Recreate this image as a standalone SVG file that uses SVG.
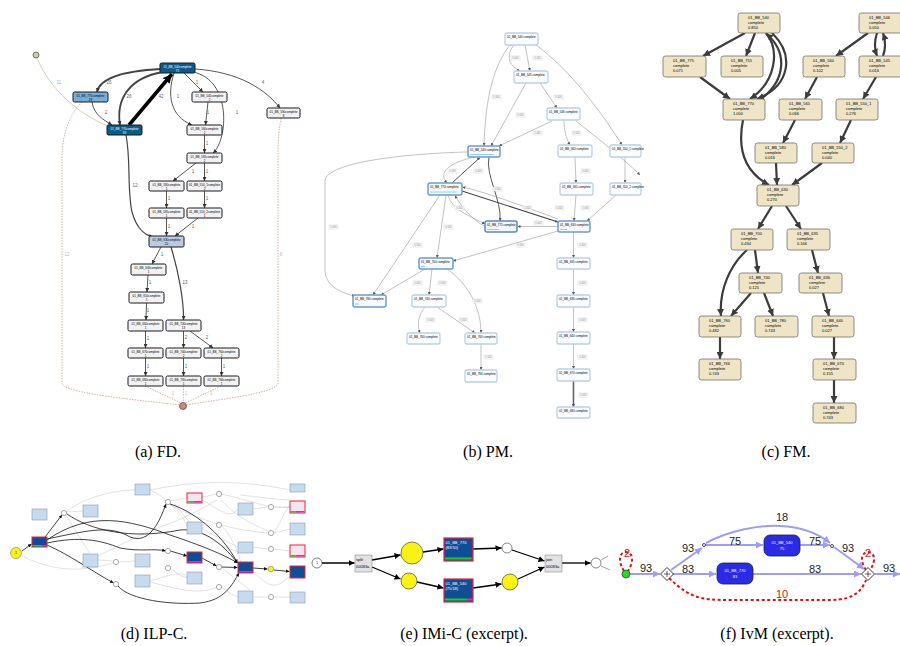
<svg xmlns="http://www.w3.org/2000/svg" width="900" height="646" viewBox="0 0 900 646">
<style>
.cap{font-family:"Liberation Serif",serif;font-size:16px;fill:#000;text-anchor:middle}
.t3{font-family:"Liberation Sans",Arial,sans-serif;font-size:3px;text-anchor:middle}
.t4{font-family:"Liberation Sans",Arial,sans-serif;font-size:4px}
.lab{font-family:"Liberation Sans",Arial,sans-serif;font-size:4.5px;fill:#777;text-anchor:middle}
.fdD{fill:#0b5a8a;stroke:#1a1a1a;stroke-width:1}
.fdL{fill:#79aedb;stroke:#1a1a1a;stroke-width:1}
.fdM{fill:#bccbe4;stroke:#1a1a1a;stroke-width:1}
.fdW{fill:#f2f2f5;stroke:#1a1a1a;stroke-width:1}
.fe{fill:none;stroke:#444;stroke-width:0.9;marker-end:url(#aA)}
.fd{fill:none;stroke:#c49080;stroke-width:0.7;stroke-dasharray:1.5,1.2}
.pmN{fill:#fbfcfd;stroke:#bcd0e6;stroke-width:1.3}
.pmH{fill:#f7f9fb;stroke:#6f9cc9;stroke-width:1.5}
.pe{fill:none;stroke:#999;stroke-width:0.6;marker-end:url(#aP)}
.pk{fill:none;stroke:#444;stroke-width:0.9;marker-end:url(#aP)}
.pl rect{fill:#fff;stroke:#ccc;stroke-width:0.4}
.pl text{font-family:"Liberation Sans",Arial,sans-serif;font-size:2.6px;fill:#888;text-anchor:middle}
.fmN{fill:#efe5c6;stroke:#707070;stroke-width:0.8}
.fme{fill:none;stroke:#3c3c3c;stroke-width:2.2;marker-end:url(#aF)}
.ilB{fill:#c8daee;stroke:#8d9bb0;stroke-width:0.6}
.ilD{fill:#0f4e96;stroke:#e8243a;stroke-width:1}
.ilP{fill:#f6e4ee;stroke:#e8243a;stroke-width:1}
.ilpl{fill:#fff;stroke:#555;stroke-width:0.5}
.ik{fill:none;stroke:#111;stroke-width:0.8;marker-end:url(#aI)}
.ig{fill:none;stroke:#cfcfcf;stroke-width:0.6}
.ek{fill:none;stroke:#000;stroke-width:1.3;marker-end:url(#aE)}
.iv{fill:none;stroke:#9d9cf6;stroke-width:2;marker-end:url(#aV)}
.ivr{fill:none;stroke:#e01010;stroke-width:2;stroke-dasharray:3,2.5}
.ivl{font-family:"Liberation Sans",Arial,sans-serif;font-size:11px;fill:#222;text-anchor:middle}
.ivlr{font-family:"Liberation Sans",Arial,sans-serif;font-size:11px;fill:#e01010;text-anchor:middle}
</style>
<defs>
<marker id="aA" viewBox="0 0 6 6" refX="6" refY="3" markerWidth="4" markerHeight="4" markerUnits="userSpaceOnUse" orient="auto"><path d="M0,0L6,3L0,6z" fill="#333"/></marker>
<marker id="aA2" viewBox="0 0 6 6" refX="6" refY="3" markerWidth="9" markerHeight="9" markerUnits="userSpaceOnUse" orient="auto"><path d="M0,0L6,3L0,6z" fill="#000"/></marker>
<marker id="aP" viewBox="0 0 6 6" refX="6" refY="3" markerWidth="3" markerHeight="3" markerUnits="userSpaceOnUse" orient="auto"><path d="M0,0L6,3L0,6z" fill="#555"/></marker>
<marker id="aF" viewBox="0 0 6 6" refX="6" refY="3" markerWidth="7" markerHeight="7" markerUnits="userSpaceOnUse" orient="auto"><path d="M0,0L6,3L0,6z" fill="#3c3c3c"/></marker>
<marker id="aI" viewBox="0 0 6 6" refX="6" refY="3" markerWidth="3.5" markerHeight="3.5" markerUnits="userSpaceOnUse" orient="auto"><path d="M0,0L6,3L0,6z" fill="#111"/></marker>
<marker id="aE" viewBox="0 0 6 6" refX="6" refY="3" markerWidth="6" markerHeight="6" markerUnits="userSpaceOnUse" orient="auto"><path d="M0,0L6,3L0,6z" fill="#000"/></marker>
<marker id="aV" viewBox="0 0 6 6" refX="6" refY="3" markerWidth="7" markerHeight="7" markerUnits="userSpaceOnUse" orient="auto"><path d="M0,0L6,3L0,6z" fill="#9d9cf6"/></marker>
</defs>
<rect width="900" height="646" fill="#fff"/>

<!-- ============ (a) FD ============ -->
<g id="fd-edges">
<path class="fd" d="M82,102 C66,118 62,140 62,160 L62,383 C62,394 150,401 179.5,405"/>
<path class="fd" d="M281,118 C279,130 278,140 278,150 L278,383 C278,394 205,401 186.5,405"/>
<path class="fd" d="M145,386 L181,403"/>
<path class="fd" d="M183.5,386 L183.2,402.5"/>
<path class="fd" d="M221,386 L185.5,403"/>
<path d="M37,58 C50,90 80,115 108,126" fill="none" stroke="#c5c8a8" stroke-width="0.8"/>
<path class="fe" style="stroke-width:1.8" d="M161,69 C122,71 100,78 97,92"/>
<path class="fe" style="stroke-width:1.8" d="M163,72 C128,78 116,100 120,125"/>
<path style="fill:none;stroke:#000;stroke-width:3.5;marker-end:url(#aA2)" d="M129,125 L172,74"/>
<path class="fe" d="M92,102 C94,115 104,120 112,125"/>
<path class="fe" d="M174,73 C167,95 170,116 192,125"/>
<path class="fe" d="M184,73 L203,92"/>
<path class="fe" d="M193,72 C232,80 228,140 213,153"/>
<path class="fe" d="M195,69 C240,72 266,90 280,108"/>
<path class="fe" d="M208,102 L205.5,125"/>
<path class="fe" d="M204.5,135 L204.5,153"/>
<path class="fe" d="M196,163 L173,181"/>
<path class="fe" d="M204.5,163 L204.5,181"/>
<path class="fe" d="M166.5,191 L166.5,208"/>
<path class="fe" d="M204.5,191 L204.5,208"/>
<path class="fe" d="M166.5,218 L166.5,236"/>
<path class="fe" d="M198,218 L175,236"/>
<path class="fe" style="stroke-width:1.2" d="M126,135 C131,160 127,190 132,212 C137,230 145,235 153,237"/>
<path class="fe" d="M161,247 L152,264"/>
<path class="fe" style="stroke-width:1.2" d="M171,247 C178,270 184,300 183.5,320"/>
<path class="fe" d="M148,275 L147,292"/>
<path class="fe" d="M146.5,303 L146,320"/>
<path class="fe" d="M145.5,331 L145.5,348"/>
<path class="fe" d="M183.5,331 L183.5,348"/>
<path class="fe" d="M190,331 L213,348"/>
<path class="fe" d="M145.5,358 L145.5,376"/>
<path class="fe" d="M183.5,358 L183.5,376"/>
<path class="fe" d="M221.5,358 L221.5,376"/>
<g class="lab" style="fill:#666">
<text x="59" y="84" style="fill:#aab090">11</text><text x="109" y="84">26</text><text x="129" y="98">26</text><text x="161" y="98">42</text>
<text x="106" y="114">2</text><text x="178" y="98">1</text><text x="197" y="84">1</text><text x="237" y="114">1</text><text x="263" y="84">4</text>
<text x="208" y="114">1</text><text x="207" y="145">1</text><text x="193" y="173">1</text><text x="207" y="173">1</text>
<text x="169" y="200">1</text><text x="207" y="200">1</text><text x="169" y="228">1</text><text x="193" y="228">1</text>
<text x="135" y="187">12</text><text x="162" y="256">1</text><text x="185" y="284">13</text><text x="150" y="284">1</text>
<text x="148" y="312">1</text><text x="148" y="340">1</text><text x="186" y="339">2</text><text x="207" y="339">2</text>
<text x="148" y="368">1</text><text x="186" y="368">1</text><text x="224" y="368">1</text>
<text x="173" y="395" style="fill:#bbb">1</text><text x="186" y="395" style="fill:#bbb">1</text><text x="211" y="395" style="fill:#bbb">1</text>
<text x="67" y="256" style="fill:#bbb">12</text><text x="281" y="256" style="fill:#bbb">8</text>
</g>
</g>
<g id="fd-start"><circle cx="36" cy="55" r="3" fill="#c3d2a8" stroke="#555" stroke-width="0.8"/></g>
<g id="fd-end"><circle cx="183" cy="406" r="3.5" fill="#c48a86" stroke="#555" stroke-width="0.8"/></g>
<g id="fd-540"><rect class="fdD" x="160" y="63" width="35" height="10" rx="1.5"/><text class="t3" x="177.5" y="67.5" fill="#fff">01_BB_540complete</text><text class="t3" x="177.5" y="71.5" fill="#fff">75</text></g>
<g id="fd-775"><rect class="fdL" x="73" y="92" width="35" height="10" rx="1.5"/><text class="t3" x="90.5" y="96.5">01_BB_775complete</text><text class="t3" x="90.5" y="100.5">28</text></g>
<g id="fd-770"><rect class="fdD" x="107" y="125" width="35" height="10" rx="1.5"/><text class="t3" x="124.5" y="129.5" fill="#fff">01_BB_770complete</text><text class="t3" x="124.5" y="133.5" fill="#fff">83</text></g>
<g id="fd-545"><rect class="fdW" x="192" y="92" width="35" height="10" rx="1.5"/><text class="t3" x="209.5" y="96.5">01_BB_545complete</text><text class="t3" x="209.5" y="100.5">2</text></g>
<g id="fd-590"><rect class="fdW" x="267" y="108" width="33" height="10" rx="1.5"/><text class="t3" x="283.5" y="112.5">01_BB_590complete</text><text class="t3" x="283.5" y="116.5">8</text></g>
<g id="fd-560"><rect class="fdW" x="187" y="125" width="35" height="10" rx="1.5"/><text class="t3" x="204.5" y="129.5">01_BB_560complete</text><text class="t3" x="204.5" y="133.5">2</text></g>
<g id="fd-565"><rect class="fdW" x="187" y="153" width="35" height="10" rx="1.5"/><text class="t3" x="204.5" y="157.5">01_BB_565complete</text><text class="t3" x="204.5" y="161.5">2</text></g>
<g id="fd-580"><rect class="fdW" x="149" y="181" width="35" height="10" rx="1.5"/><text class="t3" x="166.5" y="185.5">01_BB_580complete</text><text class="t3" x="166.5" y="189.5">1</text></g>
<g id="fd-5501"><rect class="fdW" x="187" y="181" width="35" height="10" rx="1.5"/><text class="t3" x="204.5" y="185.5">01_BB_550_1complete</text><text class="t3" x="204.5" y="189.5">2</text></g>
<g id="fd-585"><rect class="fdW" x="149" y="208" width="35" height="10" rx="1.5"/><text class="t3" x="166.5" y="212.5">01_BB_585complete</text><text class="t3" x="166.5" y="216.5">1</text></g>
<g id="fd-5502"><rect class="fdW" x="187" y="208" width="35" height="10" rx="1.5"/><text class="t3" x="204.5" y="212.5">01_BB_550_2complete</text><text class="t3" x="204.5" y="216.5">1</text></g>
<g id="fd-630"><rect class="fdM" x="149" y="236" width="35" height="11" rx="1.5"/><text class="t3" x="166.5" y="240.5">01_BB_630complete</text><text class="t3" x="166.5" y="245">20</text></g>
<g id="fd-640"><rect class="fdW" x="131" y="264" width="35" height="11" rx="1.5"/><text class="t3" x="148.5" y="268.5">01_BB_640complete</text><text class="t3" x="148.5" y="273">1</text></g>
<g id="fd-650"><rect class="fdW" x="129" y="292" width="35" height="11" rx="1.5"/><text class="t3" x="146.5" y="296.5">01_BB_650complete</text><text class="t3" x="146.5" y="301">1</text></g>
<g id="fd-660"><rect class="fdW" x="128" y="320" width="35" height="11" rx="1.5"/><text class="t3" x="145.5" y="324.5">01_BB_660complete</text><text class="t3" x="145.5" y="329">1</text></g>
<g id="fd-700"><rect class="fdW" x="166" y="320" width="35" height="11" rx="1.5"/><text class="t3" x="183.5" y="324.5">01_BB_700complete</text><text class="t3" x="183.5" y="329">13</text></g>
<g id="fd-670"><rect class="fdW" x="128" y="348" width="35" height="10" rx="1.5"/><text class="t3" x="145.5" y="352.5">01_BB_670complete</text><text class="t3" x="145.5" y="356.5">1</text></g>
<g id="fd-740"><rect class="fdW" x="166" y="348" width="35" height="10" rx="1.5"/><text class="t3" x="183.5" y="352.5">01_BB_740complete</text><text class="t3" x="183.5" y="356.5">2</text></g>
<g id="fd-760"><rect class="fdW" x="204" y="348" width="35" height="10" rx="1.5"/><text class="t3" x="221.5" y="352.5">01_BB_760complete</text><text class="t3" x="221.5" y="356.5">2</text></g>
<g id="fd-680"><rect class="fdW" x="128" y="376" width="35" height="10" rx="1.5"/><text class="t3" x="145.5" y="380.5">01_BB_680complete</text><text class="t3" x="145.5" y="384.5">1</text></g>
<g id="fd-780"><rect class="fdW" x="166" y="376" width="35" height="10" rx="1.5"/><text class="t3" x="183.5" y="380.5">01_BB_780complete</text><text class="t3" x="183.5" y="384.5">1</text></g>
<g id="fd-766"><rect class="fdW" x="204" y="376" width="35" height="10" rx="1.5"/><text class="t3" x="221.5" y="380.5">01_BB_766complete</text><text class="t3" x="221.5" y="384.5">1</text></g>
<text class="cap" x="158" y="457">(a) FD.</text>

<!-- ============ (b) PM ============ -->
<g id="pm-edges">
<path class="pe" d="M514,45 C506,55 508,65 520,71"/>
<path class="pe" d="M525,45 L530,71"/>
<path class="pe" d="M510,45 C490,70 485,110 484,146"/>
<path class="pe" d="M536,45 C570,70 600,110 622,145"/>
<path class="pe" d="M526,83 L491,146"/>
<path class="pe" d="M540,83 L557,108"/>
<path class="pe" d="M552,121 L499,146"/>
<path class="pe" d="M564,121 C564,130 566,138 570,145"/>
<path class="pe" d="M576,121 C600,140 625,160 640,175"/>
<path class="pe" d="M575,157 L576,183"/>
<path class="pe" d="M625,157 L625,183"/>
<path class="pe" d="M576,195 L574,221"/>
<path class="pe" d="M616,195 L587,221"/>
<path class="pe" d="M474,157 C442,165 440,175 447,183"/>
<path class="pk" d="M452,183 L480,157.5"/>
<path class="pk" d="M489,157 C485,175 502,200 500,221"/>
<path class="pe" d="M468,152 C420,153 330,160 325,180 L325,270 C325,285 340,293 355,296"/>
<path class="pe" d="M448,195 C452,210 470,216 485,224"/>
<path class="pe" d="M486,227 C472,220 460,205 455,195.5"/>
<path class="pk" style="stroke-width:1.1" d="M462,191 L558,222"/>
<path class="pe" d="M558,219 C520,205 485,192 462.5,187"/>
<path class="pe" d="M558,226.5 L517.5,226.5"/>
<path class="pe" d="M558,231 L453,261"/>
<path class="pe" d="M440,195 L373,295"/>
<path class="pe" d="M446,195 L437,258"/>
<path class="pe" d="M425,269 L381,295"/>
<path class="pe" d="M432,269 L429,295"/>
<path class="pe" d="M447,269 C470,285 481,310 481,333"/>
<path class="pe" d="M425,307 C418,315 417,325 420,333"/>
<path class="pe" d="M437,307 L475,333"/>
<path class="pe" d="M481,344 L481,370"/>
<path class="pe" d="M573.5,232 L573.5,258"/>
<path class="pe" d="M573.5,269 L573.5,295"/>
<path class="pe" d="M573.5,307 L573.5,332"/>
<path class="pe" d="M573.5,344 L573.5,369"/>
<path class="pe" style="stroke:#666;stroke-width:1.6" d="M573.5,381 L573.5,407"/>
<g class="pl">
<rect x="511" y="56" width="9" height="4"/><text x="515.5" y="59">0.000</text>
<rect x="533" y="56" width="9" height="4"/><text x="537.5" y="59">0.000</text>
<rect x="492" y="95" width="9" height="4"/><text x="496.5" y="98">0.000</text>
<rect x="516" y="113" width="9" height="4"/><text x="520.5" y="116">0.000</text>
<rect x="554" y="95" width="9" height="4"/><text x="558.5" y="98">0.000</text>
<rect x="533" y="131" width="9" height="4"/><text x="537.5" y="134">0.000</text>
<rect x="572" y="131" width="9" height="4"/><text x="576.5" y="134">0.000</text>
<rect x="581" y="169" width="9" height="4"/><text x="585.5" y="172">0.000</text>
<rect x="448" y="169" width="9" height="4"/><text x="452.5" y="172">0.000</text>
<rect x="474" y="169" width="9" height="4"/><text x="478.5" y="172">0.000</text>
<rect x="493" y="187" width="9" height="4"/><text x="497.5" y="190">0.000</text>
<rect x="455" y="206" width="9" height="4"/><text x="459.5" y="209">0.000</text>
<rect x="523" y="206" width="9" height="4"/><text x="527.5" y="209">0.000</text>
<rect x="555" y="206" width="9" height="4"/><text x="559.5" y="209">0.000</text>
<rect x="581" y="206" width="9" height="4"/><text x="585.5" y="209">0.000</text>
<rect x="534" y="221" width="9" height="4"/><text x="538.5" y="224">0.000</text>
<rect x="329" y="225" width="9" height="4"/><text x="333.5" y="228">0.000</text>
<rect x="444" y="225" width="9" height="4"/><text x="448.5" y="228">0.000</text>
<rect x="413" y="243" width="9" height="4"/><text x="417.5" y="246">0.000</text>
<rect x="516" y="243" width="9" height="4"/><text x="520.5" y="246">0.000</text>
<rect x="578" y="243" width="9" height="4"/><text x="582.5" y="246">0.000</text>
<rect x="413" y="281" width="9" height="4"/><text x="417.5" y="284">0.000</text>
<rect x="438" y="281" width="9" height="4"/><text x="442.5" y="284">0.000</text>
<rect x="473" y="299" width="9" height="4"/><text x="477.5" y="302">0.000</text>
<rect x="578" y="281" width="9" height="4"/><text x="582.5" y="284">0.000</text>
<rect x="426" y="318" width="9" height="4"/><text x="430.5" y="321">0.000</text>
<rect x="459" y="318" width="9" height="4"/><text x="463.5" y="321">0.000</text>
<rect x="578" y="318" width="9" height="4"/><text x="582.5" y="321">0.000</text>
<rect x="484" y="355" width="9" height="4"/><text x="488.5" y="358">0.000</text>
<rect x="578" y="355" width="9" height="4"/><text x="582.5" y="358">0.000</text>
<rect x="579" y="393" width="9" height="4"/><text x="583.5" y="396">0.000</text>
</g>
</g>
<g id="pm-540"><rect class="pmN" x="505" y="33" width="33" height="12" rx="2"/><text class="t3" x="507" y="38" style="text-anchor:start">01_BB_540 complete</text></g>
<g id="pm-545"><rect class="pmN" x="514" y="71" width="34" height="12" rx="2"/><text class="t3" x="516" y="76" style="text-anchor:start">01_BB_545 complete</text></g>
<g id="pm-546"><rect class="pmN" x="547" y="108" width="33" height="12" rx="2"/><text class="t3" x="549" y="113" style="text-anchor:start">01_BB_546 complete</text></g>
<g id="pm-560"><rect class="pmN" x="558" y="145" width="34" height="12" rx="2"/><text class="t3" x="560" y="150" style="text-anchor:start">01_BB_560 complete</text></g>
<g id="pm-5501"><rect class="pmN" x="610" y="145" width="31" height="12" rx="2"/><text class="t3" x="612" y="150" style="text-anchor:start">01_BB_550_1 complete</text></g>
<g id="pm-565"><rect class="pmN" x="560" y="183" width="33" height="12" rx="2"/><text class="t3" x="562" y="188" style="text-anchor:start">01_BB_565 complete</text></g>
<g id="pm-5502"><rect class="pmN" x="610" y="183" width="31" height="12" rx="2"/><text class="t3" x="612" y="188" style="text-anchor:start">01_BB_550_2 complete</text></g>
<g id="pm-775"><rect class="pmH" x="468" y="146" width="32" height="11" rx="2"/><text class="t3" x="470" y="151" style="text-anchor:start">01_BB_540 complete</text><rect x="470" y="154" width="24" height="1" fill="#8fd3f2"/></g>
<g id="pm-770"><rect class="pmH" x="428" y="183" width="34" height="12" rx="2"/><text class="t3" x="430" y="188" style="text-anchor:start">01_BB_770 complete</text><rect x="430" y="191.5" width="27" height="1" fill="#8fd3f2"/></g>
<g id="pm-7752"><rect class="pmH" style="stroke:#5a8ac0;fill:#f3f5f8" x="485" y="221" width="32" height="11" rx="2"/><text class="t3" x="487" y="226" style="text-anchor:start">01_BB_775 complete</text><rect x="487" y="229" width="12" height="1" fill="#8fd3f2"/></g>
<g id="pm-630"><rect class="pmH" x="558" y="221" width="32" height="11" rx="2"/><text class="t3" x="560" y="226" style="text-anchor:start">01_BB_630 complete</text><rect x="560" y="229" width="7" height="1" fill="#8fd3f2"/></g>
<g id="pm-700"><rect class="pmH" x="419" y="258" width="34" height="11" rx="2"/><text class="t3" x="421" y="263" style="text-anchor:start">01_BB_700 complete</text><rect x="421" y="266" width="4" height="1" fill="#8fd3f2"/></g>
<g id="pm-780"><rect class="pmH" x="353" y="295" width="33" height="12" rx="2"/><text class="t3" x="355" y="300" style="text-anchor:start">01_BB_780 complete</text><rect x="355" y="303.5" width="4" height="1" fill="#8fd3f2"/></g>
<g id="pm-740"><rect class="pmN" x="412" y="295" width="34" height="12" rx="2"/><text class="t3" x="414" y="300" style="text-anchor:start">01_BB_740 complete</text></g>
<g id="pm-7402"><rect class="pmN" x="407" y="333" width="33" height="11" rx="2"/><text class="t3" x="409" y="338" style="text-anchor:start">01_BB_760 complete</text></g>
<g id="pm-760"><rect class="pmN" x="465" y="333" width="32" height="11" rx="2"/><text class="t3" x="467" y="338" style="text-anchor:start">01_BB_760 complete</text></g>
<g id="pm-766"><rect class="pmN" x="465" y="370" width="32" height="12" rx="2"/><text class="t3" x="467" y="375" style="text-anchor:start">01_BB_766 complete</text></g>
<g id="pm-635"><rect class="pmN" x="557" y="258" width="33" height="11" rx="2"/><text class="t3" x="559" y="263" style="text-anchor:start">01_BB_635 complete</text></g>
<g id="pm-636"><rect class="pmN" x="557" y="295" width="33" height="12" rx="2"/><text class="t3" x="559" y="300" style="text-anchor:start">01_BB_636 complete</text></g>
<g id="pm-640"><rect class="pmN" x="557" y="332" width="33" height="12" rx="2"/><text class="t3" x="559" y="337" style="text-anchor:start">01_BB_640 complete</text></g>
<g id="pm-670"><rect class="pmN" x="557" y="369" width="33" height="12" rx="2"/><text class="t3" x="559" y="374" style="text-anchor:start">01_BB_670 complete</text></g>
<g id="pm-680"><rect class="pmN" x="557" y="407" width="33" height="11" rx="2"/><text class="t3" x="559" y="412" style="text-anchor:start">01_BB_680 complete</text></g>
<text class="cap" x="488" y="457">(b) PM.</text>

<!-- ============ (c) FM ============ -->
<g id="fm-edges">
<path class="fme" d="M745,33 L703,56"/>
<path class="fme" d="M755,33 L746,56"/>
<path class="fme" d="M766,33 C780,50 776,82 750,99"/>
<path class="fme" d="M772,33 C795,55 790,86 757,99"/>
<path class="fme" d="M761,99 C786,80 788,52 766,33.5"/>
<path class="fme" d="M700,77 L730,99"/>
<path class="fme" d="M868,33 L836,56"/>
<path class="fme" d="M877,33 C874,42 874,48 877,56"/>
<path class="fme" d="M883,56 C886,48 886,42 883,33"/>
<path class="fme" d="M817,77 L805,99"/>
<path class="fme" d="M876,77 L863,99"/>
<path class="fme" d="M795,120 L783,143"/>
<path class="fme" d="M851,120 L840,143"/>
<path class="fme" d="M743,120 C737,150 745,172 769,185"/>
<path class="fme" d="M776,163 L777,185"/>
<path class="fme" d="M822,163 L792,185"/>
<path class="fme" d="M772,206 L758,229"/>
<path class="fme" d="M786,206 L801,229"/>
<path class="fme" d="M755,250 L758,273"/>
<path class="fme" d="M747,250 C730,265 719,290 721,316"/>
<path class="fme" d="M751,293 L731,316"/>
<path class="fme" d="M764,293 L773,316"/>
<path class="fme" d="M812,250 L818,273"/>
<path class="fme" d="M823,293 L829,316"/>
<path class="fme" d="M720,337 L720,359"/>
<path class="fme" d="M834,337 L834,359"/>
<path class="fme" d="M834,380 L834,403"/>
</g>
<g id="fm-540"><rect class="fmN" x="738" y="13" width="42" height="20" rx="2.5"/><text class="t4" x="748" y="18.5">01_BB_540</text><text class="t4" x="748" y="23.5">complete</text><text class="t4" x="748" y="28.5">0.850</text></g>
<g id="fm-546"><rect class="fmN" x="859" y="13" width="45" height="20" rx="2.5"/><text class="t4" x="869" y="18.5">01_BB_546</text><text class="t4" x="869" y="23.5">complete</text><text class="t4" x="869" y="28.5">0.050</text></g>
<g id="fm-775"><rect class="fmN" x="663" y="56" width="43" height="21" rx="2.5"/><text class="t4" x="673" y="61.5">01_BB_775</text><text class="t4" x="673" y="66.5">complete</text><text class="t4" x="673" y="71.5">0.071</text></g>
<g id="fm-755"><rect class="fmN" x="721" y="56" width="42" height="21" rx="2.5"/><text class="t4" x="731" y="61.5">01_BB_755</text><text class="t4" x="731" y="66.5">complete</text><text class="t4" x="731" y="71.5">0.005</text></g>
<g id="fm-560"><rect class="fmN" x="803" y="56" width="42" height="21" rx="2.5"/><text class="t4" x="813" y="61.5">01_BB_560</text><text class="t4" x="813" y="66.5">complete</text><text class="t4" x="813" y="71.5">0.102</text></g>
<g id="fm-545"><rect class="fmN" x="859" y="56" width="45" height="21" rx="2.5"/><text class="t4" x="869" y="61.5">01_BB_545</text><text class="t4" x="869" y="66.5">complete</text><text class="t4" x="869" y="71.5">0.016</text></g>
<g id="fm-770"><rect class="fmN" x="723" y="99" width="42" height="21" rx="2.5"/><text class="t4" x="733" y="104.5">01_BB_770</text><text class="t4" x="733" y="109.5">complete</text><text class="t4" x="733" y="114.5">1.000</text></g>
<g id="fm-565"><rect class="fmN" x="779" y="99" width="43" height="21" rx="2.5"/><text class="t4" x="789" y="104.5">01_BB_565</text><text class="t4" x="789" y="109.5">complete</text><text class="t4" x="789" y="114.5">0.066</text></g>
<g id="fm-5501"><rect class="fmN" x="836" y="99" width="42" height="21" rx="2.5"/><text class="t4" x="846" y="104.5">01_BB_550_1</text><text class="t4" x="846" y="109.5">complete</text><text class="t4" x="846" y="114.5">0.276</text></g>
<g id="fm-580"><rect class="fmN" x="755" y="143" width="42" height="20" rx="2.5"/><text class="t4" x="765" y="148.5">01_BB_580</text><text class="t4" x="765" y="153.5">complete</text><text class="t4" x="765" y="158.5">0.016</text></g>
<g id="fm-5502"><rect class="fmN" x="812" y="143" width="42" height="20" rx="2.5"/><text class="t4" x="822" y="148.5">01_BB_550_2</text><text class="t4" x="822" y="153.5">complete</text><text class="t4" x="822" y="158.5">0.040</text></g>
<g id="fm-630"><rect class="fmN" x="757" y="185" width="42" height="21" rx="2.5"/><text class="t4" x="767" y="190.5">01_BB_630</text><text class="t4" x="767" y="195.5">complete</text><text class="t4" x="767" y="200.5">0.270</text></g>
<g id="fm-700"><rect class="fmN" x="731" y="229" width="42" height="21" rx="2.5"/><text class="t4" x="741" y="234.5">01_BB_700</text><text class="t4" x="741" y="239.5">complete</text><text class="t4" x="741" y="244.5">0.434</text></g>
<g id="fm-635"><rect class="fmN" x="787" y="229" width="43" height="21" rx="2.5"/><text class="t4" x="797" y="234.5">01_BB_635</text><text class="t4" x="797" y="239.5">complete</text><text class="t4" x="797" y="244.5">0.166</text></g>
<g id="fm-740"><rect class="fmN" x="739" y="273" width="43" height="20" rx="2.5"/><text class="t4" x="749" y="278.5">01_BB_740</text><text class="t4" x="749" y="283.5">complete</text><text class="t4" x="749" y="288.5">0.125</text></g>
<g id="fm-636"><rect class="fmN" x="799" y="273" width="43" height="20" rx="2.5"/><text class="t4" x="809" y="278.5">01_BB_636</text><text class="t4" x="809" y="283.5">complete</text><text class="t4" x="809" y="288.5">0.027</text></g>
<g id="fm-760"><rect class="fmN" x="699" y="316" width="42" height="21" rx="2.5"/><text class="t4" x="709" y="321.5">01_BB_760</text><text class="t4" x="709" y="326.5">complete</text><text class="t4" x="709" y="331.5">0.482</text></g>
<g id="fm-780"><rect class="fmN" x="755" y="316" width="43" height="21" rx="2.5"/><text class="t4" x="765" y="321.5">01_BB_780</text><text class="t4" x="765" y="326.5">complete</text><text class="t4" x="765" y="331.5">0.743</text></g>
<g id="fm-640"><rect class="fmN" x="812" y="316" width="42" height="21" rx="2.5"/><text class="t4" x="822" y="321.5">01_BB_640</text><text class="t4" x="822" y="326.5">complete</text><text class="t4" x="822" y="331.5">0.027</text></g>
<g id="fm-766"><rect class="fmN" x="699" y="359" width="42" height="21" rx="2.5"/><text class="t4" x="709" y="364.5">01_BB_766</text><text class="t4" x="709" y="369.5">complete</text><text class="t4" x="709" y="374.5">0.743</text></g>
<g id="fm-670"><rect class="fmN" x="813" y="359" width="43" height="21" rx="2.5"/><text class="t4" x="823" y="364.5">01_BB_670</text><text class="t4" x="823" y="369.5">complete</text><text class="t4" x="823" y="374.5">0.155</text></g>
<g id="fm-680"><rect class="fmN" x="813" y="403" width="43" height="20" rx="2.5"/><text class="t4" x="823" y="408.5">01_BB_680</text><text class="t4" x="823" y="413.5">complete</text><text class="t4" x="823" y="418.5">0.743</text></g>
<text class="cap" x="786" y="457">(c) FM.</text>

<!-- ============ (d) ILP-C ============ -->
<g id="ilp-edges">
<path class="ig" d="M22,556 C60,575 90,570 116,562"/>
<path class="ig" d="M66,512 C80,500 110,490 135,490"/>
<path class="ig" d="M66,515 C75,530 85,545 90,554"/>
<path class="ig" d="M66,512 L83,511"/>
<path class="ig" d="M98,560 L113,561"/>
<path class="ig" d="M119,562 L135,561"/>
<path class="ig" d="M150,490 C160,495 165,498 166,501"/>
<path class="ig" d="M171,501 L187,498"/>
<path class="ig" d="M202,497 C210,496 214,494 217,494"/>
<path class="ig" d="M202,500 C220,510 230,520 238,509"/>
<path class="ig" d="M170,504 C180,512 185,520 187,527"/>
<path class="ig" d="M170,505 C200,520 230,530 268,533"/>
<path class="ig" d="M202,528 C210,535 225,540 238,547"/>
<path class="ig" d="M221,494 C250,500 270,510 290,507"/>
<path class="ig" d="M253,509 L268,507"/>
<path class="ig" d="M274,507 L290,507"/>
<path class="ig" d="M274,533 C282,520 285,510 290,505"/>
<path class="ig" d="M274,533 L290,529"/>
<path class="ig" d="M253,547 L268,549"/>
<path class="ig" d="M274,549 L290,551"/>
<path class="ig" d="M221,525 C235,540 238,555 241,562"/>
<path class="ig" d="M150,581 C170,575 185,570 187,578"/>
<path class="ig" d="M150,582 C180,590 200,595 217,587"/>
<path class="ig" d="M221,587 C228,592 232,595 238,597"/>
<path class="ig" d="M253,597 L268,597"/>
<path class="ig" d="M274,597 L290,597"/>
<path class="ig" d="M170,568 C175,572 180,576 187,578"/>
<path class="ig" d="M253,570 C265,585 275,590 285,580 C292,575 295,572 298,570"/>
<path class="ig" d="M98,556 C130,540 150,530 166,525 C180,520 200,510 217,500"/>
<path class="ig" d="M221,500 C240,520 255,525 268,531"/>
<path class="ig" d="M221,567 C230,575 240,582 250,590"/>
<path class="ig" d="M150,490 C200,480 240,480 290,490"/>
<path class="ig" d="M240,495 C260,497 280,500 290,500"/>
<path class="ig" d="M175,504 C200,540 230,550 240,552"/>
<path class="ik" d="M22,551 L31.5,544"/>
<path class="ik" d="M45,537 L62,515"/>
<path class="ik" d="M47,539 C90,530 110,525 130,537 C150,545 160,520 166,504"/>
<path class="ik" d="M47,543 C80,536 100,540 120,548 C140,552 155,548 165.5,551"/>
<path class="ik" d="M47,545 C70,555 90,570 113.5,583"/>
<path class="ik" d="M47,540 C90,510 130,520 170,535 C200,545 225,555 237.5,563"/>
<path class="ik" d="M67,514 C90,530 130,540 180,530 C200,528 220,540 237.5,563"/>
<path class="ik" d="M170,504 C190,510 220,530 237.5,563"/>
<path class="ik" d="M170.5,551 L187,556"/>
<path class="ik" d="M202,558 L216.5,566"/>
<path class="ik" d="M221.5,567 L237.5,567.5"/>
<path class="ik" d="M118,586 C130,600 170,605 200,603 C225,600 232,585 239,573"/>
<path class="ik" d="M253,568 L267.5,569"/>
<path class="ik" d="M274,570 L289.5,571.5"/>
</g>
<g id="ilp-start"><circle cx="16" cy="553" r="5.5" fill="#f7f314" stroke="#666" stroke-width="0.5"/><text class="t3" x="16" y="554">1</text></g>
<g id="ilp-t0"><rect class="ilD" x="32" y="537" width="15" height="10"/><rect x="32.5" y="545" width="10" height="1.5" fill="#12d31e"/><rect x="42.5" y="545" width="4" height="1.5" fill="#f020c0"/></g>
<g id="ilp-b1"><rect class="ilB" x="32" y="509" width="15" height="11"/></g>
<g id="ilp-b2"><rect class="ilB" x="83" y="505" width="15" height="12"/></g>
<g id="ilp-b3"><rect class="ilB" x="83" y="554" width="15" height="13"/></g>
<g id="ilp-b4"><rect class="ilB" x="135" y="554" width="15" height="13"/></g>
<g id="ilp-b5"><rect class="ilB" x="135" y="575" width="15" height="12"/></g>
<g id="ilp-b6"><rect class="ilB" x="135" y="484" width="15" height="11"/></g>
<g id="ilp-p1"><rect class="ilP" x="187" y="493" width="15" height="10"/><rect x="187.5" y="501" width="6" height="1.5" fill="#12d31e"/><rect x="193.5" y="501" width="8" height="1.5" fill="#f020c0"/></g>
<g id="ilp-b7"><rect class="ilB" x="187" y="522" width="15" height="12"/></g>
<g id="ilp-d2"><rect class="ilD" x="187" y="552" width="15" height="11"/><rect x="187.5" y="561" width="14" height="1.5" fill="#f020c0"/></g>
<g id="ilp-b8"><rect class="ilB" x="187" y="572" width="15" height="12"/></g>
<g id="ilp-b9"><rect class="ilB" x="238" y="503" width="15" height="12"/></g>
<g id="ilp-b10"><rect class="ilB" x="238" y="542" width="15" height="11"/></g>
<g id="ilp-d3"><rect class="ilD" x="238" y="562" width="15" height="11"/><rect x="238.5" y="571" width="14" height="1.5" fill="#f020c0"/></g>
<g id="ilp-b11"><rect class="ilB" x="238" y="591" width="15" height="12"/></g>
<g id="ilp-b12"><rect class="ilB" x="290" y="484" width="15" height="8"/></g>
<g id="ilp-p2"><rect class="ilP" x="290" y="501" width="15" height="12"/><rect x="290.5" y="511" width="5" height="1.5" fill="#12d31e"/><rect x="295.5" y="511" width="9" height="1.5" fill="#f020c0"/></g>
<g id="ilp-b13"><rect class="ilB" x="290" y="523" width="15" height="12"/></g>
<g id="ilp-p3"><rect class="ilP" x="290" y="545" width="15" height="12"/><rect x="290.5" y="555" width="5" height="1.5" fill="#12d31e"/><rect x="295.5" y="555" width="9" height="1.5" fill="#f020c0"/></g>
<g id="ilp-d4"><rect class="ilD" x="290" y="566" width="15" height="12"/></g>
<g id="ilp-b14"><rect class="ilB" x="290" y="592" width="15" height="11"/></g>
<g id="ilp-places">
<circle class="ilpl" cx="64" cy="513" r="2.6"/><circle class="ilpl" cx="116" cy="562" r="2.6"/><circle class="ilpl" cx="116" cy="584" r="2.6"/>
<circle class="ilpl" cx="168" cy="502" r="2.6"/><circle class="ilpl" cx="168" cy="551" r="2.6"/><circle class="ilpl" cx="168" cy="568" r="2.6"/>
<circle class="ilpl" cx="219" cy="494" r="2.6"/><circle class="ilpl" cx="219" cy="525" r="2.6"/><circle class="ilpl" cx="219" cy="567" r="2.6"/><circle class="ilpl" cx="219" cy="587" r="2.6"/>
<circle class="ilpl" cx="271" cy="507" r="2.6"/><circle class="ilpl" cx="271" cy="533" r="2.6"/><circle class="ilpl" cx="271" cy="549" r="2.6"/><circle class="ilpl" cx="271" cy="597" r="2.6"/>
<circle cx="271" cy="569" r="2.8" fill="#f7f314" stroke="#666" stroke-width="0.5"/>
</g>
<text class="cap" x="154" y="639">(d) ILP-C.</text>

<!-- ============ (e) IMi-C ============ -->
<g id="imi-edges">
<path class="ek" d="M322,563 L354.5,563"/>
<path class="ek" d="M372,560 L400.5,555"/>
<path class="ek" d="M372,567 L400.5,579"/>
<path class="ek" d="M423,552 L443.5,549"/>
<path class="ek" d="M417,582 L443.5,588"/>
<path class="ek" d="M473,549 L501.5,548"/>
<path class="ek" d="M473,588 L501.5,584"/>
<path class="ek" d="M512,550 L544.5,561"/>
<path class="ek" d="M518,579 L544.5,567"/>
<path class="ek" d="M562,563 L590.5,563"/>
<path d="M601,560 L608,556 M601,566 L610,570" fill="none" stroke="#777" stroke-width="0.7"/>
</g>
<g id="imi-p0"><circle cx="317" cy="563" r="5" fill="#fff" stroke="#333" stroke-width="0.6"/><text class="t3" x="317" y="564.3">1</text></g>
<g id="imi-split"><rect x="355" y="555" width="17" height="17" fill="#e2e2e2" stroke="#777" stroke-width="0.5"/><text class="t4" x="356" y="561">split</text><text class="t4" x="356" y="568">00083a</text></g>
<g id="imi-y1"><circle cx="412" cy="553" r="11" fill="#f7f314" stroke="#333" stroke-width="0.6"/></g>
<g id="imi-y2"><circle cx="409" cy="581" r="8" fill="#f7f314" stroke="#333" stroke-width="0.6"/></g>
<g id="imi-770"><rect x="444" y="538" width="29" height="23" fill="#0f4e96" stroke="#e8243a" stroke-width="1.2"/><rect x="445" y="557.5" width="26" height="2" fill="#12d31e"/><rect x="471" y="557.5" width="1.5" height="2" fill="#f020c0"/><text class="t4" x="445.5" y="544" fill="#fff">01_BB_770</text><text class="t4" x="445.5" y="549" fill="#fff">(83/10)</text></g>
<g id="imi-540"><rect x="444" y="579" width="29" height="23" fill="#0f4e96" stroke="#e8243a" stroke-width="1.2"/><rect x="445" y="598.5" width="22" height="2" fill="#12d31e"/><rect x="467" y="598.5" width="5.5" height="2" fill="#f020c0"/><text class="t4" x="445.5" y="585" fill="#fff">01_BB_540</text><text class="t4" x="445.5" y="590" fill="#fff">(75/18)</text></g>
<g id="imi-w"><circle cx="507" cy="548" r="5" fill="#fff" stroke="#333" stroke-width="0.6"/></g>
<g id="imi-y3"><circle cx="510" cy="582" r="8" fill="#f7f314" stroke="#333" stroke-width="0.6"/></g>
<g id="imi-join"><rect x="545" y="555" width="17" height="17" fill="#e2e2e2" stroke="#777" stroke-width="0.5"/><text class="t4" x="546" y="561">join</text><text class="t4" x="546" y="568">00083a</text></g>
<g id="imi-out"><circle cx="596" cy="563" r="5" fill="#fff" stroke="#333" stroke-width="0.6"/></g>
<text class="cap" x="464" y="639">(e) IMi-C (excerpt).</text>

<!-- ============ (f) IvM ============ -->
<g id="ivm-edges">
<path class="ivr" d="M624,571 C617,560 620,552 626,552 C632,552 635,560 628,571"/>
<path class="ivr" d="M866,570 C859,560 862,552 868,552 C874,552 877,560 870,570"/>
<path class="ivr" d="M669,578 C690,598 700,600 730,600 L830,600 C855,600 862,590 866,580"/>
<path class="iv" d="M630,574 L660,574"/>
<path class="iv" d="M671,570 L702,548"/>
<path class="iv" d="M673,574 L716,574"/>
<path class="iv" d="M706,545 L763,545"/>
<path class="iv" d="M706,543 C730,530 760,525 780,526 C805,527 820,535 830,543"/>
<path class="iv" d="M800,545 L830,545"/>
<path class="iv" d="M834,547 L864,569"/>
<path class="iv" d="M753,574 L861,574"/>
<path class="iv" d="M875,574 L900,574"/>
<g class="ivl"><text x="646" y="572">93</text><text x="688" y="552">93</text><text x="688" y="573">83</text><text x="735" y="545">75</text><text x="815" y="545">75</text><text x="782" y="521">18</text><text x="848" y="552">93</text><text x="815" y="573">83</text><text x="889" y="572">93</text></g>
<g class="ivlr"><text x="627" y="557">2</text><text x="868" y="557">2</text><text x="782" y="598">10</text></g>
</g>
<g id="ivm-start"><circle cx="626" cy="574" r="4" fill="#22dd22" stroke="#333" stroke-width="0.7"/></g>
<g id="ivm-g1"><path d="M667,567.5 L673.5,574 L667,580.5 L660.5,574z" fill="#fff" stroke="#222" stroke-width="0.9"/><path d="M667,571 V577 M664,574 H670" stroke="#222" stroke-width="0.7"/></g>
<g id="ivm-d1"><circle cx="704" cy="545" r="1.5" fill="#fff" stroke="#000" stroke-width="0.7"/></g>
<g id="ivm-d2"><circle cx="832" cy="546" r="1.5" fill="#fff" stroke="#000" stroke-width="0.7"/></g>
<g id="ivm-540"><rect x="764" y="535" width="36" height="21" rx="6" fill="#2b2ae6" stroke="#222" stroke-width="0.8"/><text class="t4" x="782" y="544" style="text-anchor:middle" fill="#fff">01_BB_540</text><text class="t4" x="782" y="550" style="text-anchor:middle" fill="#fff">75</text></g>
<g id="ivm-770"><rect x="717" y="563" width="36" height="21" rx="6" fill="#2b2ae6" stroke="#222" stroke-width="0.8"/><text class="t4" x="735" y="572" style="text-anchor:middle" fill="#fff">01_BB_770</text><text class="t4" x="735" y="578" style="text-anchor:middle" fill="#fff">83</text></g>
<g id="ivm-g2"><path d="M868,567.5 L874.5,574 L868,580.5 L861.5,574z" fill="#fff" stroke="#222" stroke-width="0.9"/><path d="M868,571 V577 M865,574 H871" stroke="#222" stroke-width="0.7"/></g>
<text class="cap" x="777" y="639">(f) IvM (excerpt).</text>
</svg>
